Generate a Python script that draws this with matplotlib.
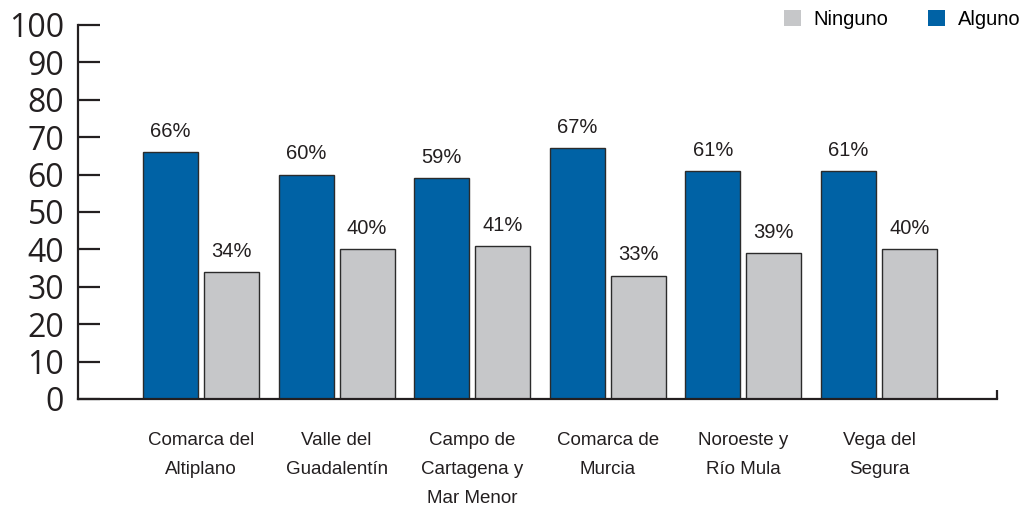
import matplotlib
matplotlib.use("Agg")
import matplotlib.pyplot as plt
from matplotlib.patches import Patch
import numpy as np

categories = ["Comarca del\nAltiplano", "Valle del\nGuadalentín", "Campo de\nCartagena y\nMar Menor",
              "Comarca de\nMurcia", "Noroeste y\nRío Mula", "Vega del\nSegura"]
alguno = [66, 60, 59, 67, 61, 61]
ninguno = [34, 40, 41, 33, 39, 40]
yticks = [0, 10, 20, 30, 40, 50, 60, 70, 80, 90, 100]

BLUE = "#0062A5"
GRAY = "#C6C7C9"
EDGE = "#2b2b2b"
TEXT = "#231f20"

fig = plt.figure(figsize=(10.22, 5.08), dpi=100)
ax = fig.add_axes([0.0763, 0.2146, 0.8992, 0.7362])

x = np.arange(len(categories))
w = 0.405
off = 0.225
ax.bar(x - off, alguno, width=w, color=BLUE, edgecolor=EDGE, linewidth=1.0, zorder=2)
ax.bar(x + off, ninguno, width=w, color=GRAY, edgecolor=EDGE, linewidth=1.0, zorder=2)

lab_font = dict(family=["Liberation Sans", "DejaVu Sans"], fontsize=14.5, color=TEXT)
for xi, v in zip(x - off, alguno):
    ax.annotate(f"{v}%", (xi, v), xytext=(0, 8), textcoords="offset points",
                ha="center", va="bottom", **lab_font)
for xi, v in zip(x + off, ninguno):
    ax.annotate(f"{v}%", (xi, v), xytext=(0, 8), textcoords="offset points",
                ha="center", va="bottom", **lab_font)

ax.set_xlim(-0.907, 5.87)
ax.set_ylim(0, 100)

for s in ["top", "right"]:
    ax.spines[s].set_visible(False)
for s in ["left", "bottom"]:
    ax.spines[s].set_linewidth(1.6)
    ax.spines[s].set_color(TEXT)

ax.set_yticks(yticks)
ax.set_yticklabels([str(t) for t in yticks], family=["Open Sans", "DejaVu Sans"], fontsize=23, color=TEXT)
ax.tick_params(axis="y", direction="in", length=16, width=1.6, color=TEXT, pad=10)

ax.set_xticks(x)
cat_font = dict(family=["Liberation Sans", "DejaVu Sans"], fontsize=13.5, color=TEXT)
ax.set_xticklabels(categories, linespacing=1.9, va="top", **cat_font)
ax.tick_params(axis="x", length=0, pad=24)

# small upturn at the right end of the baseline
ax.plot([1, 1], [0, 0.025], transform=ax.transAxes, color=TEXT, lw=1.6,
        clip_on=False, solid_capstyle="butt")

handles = [Patch(facecolor=GRAY, edgecolor="none", label="Ninguno"),
           Patch(facecolor=BLUE, edgecolor="none", label="Alguno")]
fig.legend(handles=handles, loc="upper right", bbox_to_anchor=(1.008, 1.0), ncol=2, frameon=False,
           prop=dict(family=["Liberation Sans", "DejaVu Sans"], size=14.5), handlelength=0.85,
           handleheight=0.85, handletextpad=0.6, columnspacing=2.0, borderaxespad=0.1)

fig.savefig("out.png", dpi=100)
